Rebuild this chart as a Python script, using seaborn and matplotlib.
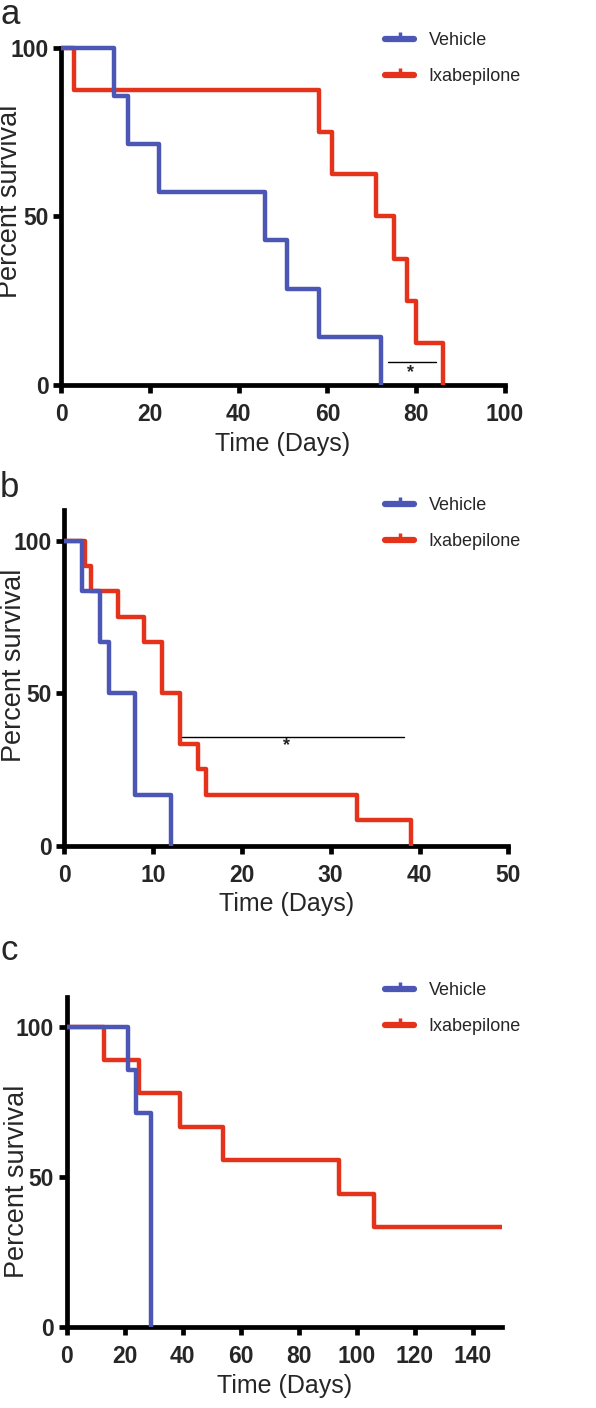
import pandas as pd
import seaborn as sns
import matplotlib.pyplot as plt
from matplotlib.lines import Line2D

# panel a
a_veh_t = [0, 12, 15, 22, 46, 51, 58, 72]
a_veh_s = [100, 85.7, 71.4, 57.1, 42.9, 28.6, 14.3, 0]
a_ixa_t = [0, 3, 58, 61, 71, 75, 78, 80, 86]
a_ixa_s = [100, 87.5, 75, 62.5, 50, 37.5, 25, 12.5, 0]

# panel b
b_veh_t = [0, 2, 4, 5, 8, 12]
b_veh_s = [100, 83.3, 66.7, 50, 16.7, 0]
b_ixa_t = [0, 2.3, 3, 6, 9, 11, 13, 15, 16, 33, 39]
b_ixa_s = [100, 91.7, 83.3, 75, 66.7, 50, 33.3, 25, 16.7, 8.3, 0]

# panel c
c_veh_t = [0, 21, 24, 29]
c_veh_s = [100, 85.7, 71.4, 0]
c_ixa_t = [0, 13, 25, 39, 54, 94, 106, 150]
c_ixa_s = [100, 88.9, 77.8, 66.7, 55.6, 44.4, 33.3, 33.3]

panels = [
    dict(letter="a", veh=(a_veh_t, a_veh_s), ixa=(a_ixa_t, a_ixa_s),
         xmax=100, xticks=range(0, 101, 20), ymax=100,
         bar=(73.7, 84.4, 6.9), star=(78.7, 3.6), ylab_y=0.545),
    dict(letter="b", veh=(b_veh_t, b_veh_s), ixa=(b_ixa_t, b_ixa_s),
         xmax=50, xticks=range(0, 51, 10), ymax=110,
         bar=(13.3, 38.2, 35.6), star=(25, 32.8), ylab_y=0.538),
    dict(letter="c", veh=(c_veh_t, c_veh_s), ixa=(c_ixa_t, c_ixa_s),
         xmax=150, xticks=range(0, 141, 20), ymax=110,
         bar=None, star=None, ylab_y=0.443),
]

# axes boxes in pixels: left, right, top, bottom
boxes = [(61, 505, 47.7, 385), (64.3, 508.3, 510, 845.7), (66.7, 501.7, 996.7, 1327.3)]
letter_base = [24, 497, 960]
legend_y = [41, 506, 991]

blue = "#4b56b5"
red = "#e5321b"

sns.set_style("white")
plt.rcParams["font.family"] = ["Liberation Sans", "DejaVu Sans"]

W, H = 596, 1408
fig = plt.figure(figsize=(W / 100, H / 100), dpi=100)

for p, box, lb, ly in zip(panels, boxes, letter_base, legend_y):
    l, r, t, b = box
    ax = fig.add_axes([l / W, 1 - b / H, (r - l) / W, (b - t) / H])
    ixa = pd.DataFrame({"t": p["ixa"][0], "s": p["ixa"][1]})
    veh = pd.DataFrame({"t": p["veh"][0], "s": p["veh"][1]})
    sns.lineplot(data=ixa, x="t", y="s", color=red, lw=3.2, drawstyle="steps-post",
                 estimator=None, sort=False, ax=ax)
    sns.lineplot(data=veh, x="t", y="s", color=blue, lw=3.2, drawstyle="steps-post",
                 estimator=None, sort=False, ax=ax)
    for ln in ax.lines:
        ln.set_clip_on(False)
        ln.set_solid_capstyle("butt")

    ax.set_xlim(0, p["xmax"])
    ax.set_ylim(0, p["ymax"])
    ax.set_xticks(list(p["xticks"]))
    ax.set_yticks([0, 50, 100])
    for side in ["top", "right"]:
        ax.spines[side].set_visible(False)
    for side in ["left", "bottom"]:
        ax.spines[side].set_linewidth(3.4)
        ax.spines[side].set_color("black")
        ax.spines[side].set_zorder(1)
    ax.tick_params(axis="both", direction="out", length=6, width=3.4, color="black",
                   labelsize=16.5, left=True, bottom=True)
    ax.tick_params(axis="x", pad=7)
    ax.tick_params(axis="y", pad=3)
    for lab in ax.get_xticklabels() + ax.get_yticklabels():
        lab.set_fontweight("bold")
    ax.set_xlabel("Time (Days)", fontsize=18, labelpad=4)
    ax.set_ylabel("Percent survival", fontsize=19.5)
    ax.yaxis.set_label_coords(-0.085, p["ylab_y"])

    if p["bar"] is not None:
        x0, x1, yb = p["bar"]
        ax.plot([x0, x1], [yb, yb], color="black", lw=1)
        ax.text(p["star"][0], p["star"][1], "*", ha="center", va="center",
                fontsize=13, fontweight="bold")

    handles = [Line2D([0], [0], color=blue, lw=4.5, marker=2, markersize=5, mew=2.5),
               Line2D([0], [0], color=red, lw=4.5, marker=2, markersize=5, mew=2.5)]
    fig.legend(handles, ["Vehicle", "Ixabepilone"], loc="upper left",
               bbox_to_anchor=(378 / W, 1 - (ly - 16) / H), frameon=False,
               fontsize=13, numpoints=1, handlelength=1.6, handletextpad=0.8,
               labelspacing=1.05, borderaxespad=0, borderpad=0.4)

    fig.text(0, 1 - lb / H, p["letter"], fontsize=25, va="baseline", ha="left")

fig.savefig("out.png", dpi=100)
